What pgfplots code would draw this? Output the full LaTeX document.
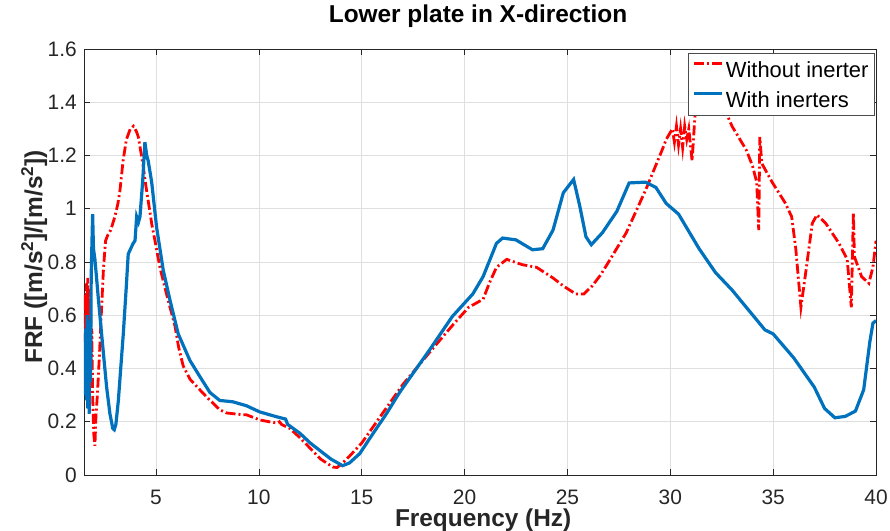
\documentclass[border=0pt]{standalone}
\usepackage{fontspec}
\setmainfont{Liberation Sans}
\usepackage{pgfplots}
\pgfplotsset{compat=1.18}
\definecolor{mred}{rgb}{1,0,0}
\definecolor{mblue}{rgb}{0,0.447,0.741}
\definecolor{axgray}{rgb}{0.15,0.15,0.15}

\begin{document}
\begin{tikzpicture}
\useasboundingbox (-84bp,-56bp) rectangle (806bp,475bp);
\begin{axis}[
  at={(0,0)}, anchor=south west,
  scale only axis, width=792bp, height=426bp,
  xmin=1.5, xmax=40, ymin=0, ymax=1.6,
  xtick={5,10,15,20,25,30,35,40},
  xticklabels={5,10,15,20,25,30,35,40},
  ytick={0,0.2,0.4,0.6,0.8,1,1.2,1.4,1.6},
  yticklabels={0,0.2,0.4,0.6,0.8,1,1.2,1.4,1.6},
  grid=major,
  major grid style={draw=gray!25, line width=0.7bp},
  axis line style={draw=axgray, line width=0.7bp},
  tick style={draw=axgray, line width=0.7bp},
  tick align=inside, major tick length=6bp,
  ticklabel style={font=\fontsize{21}{24}\selectfont, text=axgray, inner sep=0pt},
  xticklabel style={anchor=base, yshift=-29bp},
  yticklabel style={anchor=east, xshift=-7bp},
  title={Lower plate in X-direction},
  title style={font=\bfseries\fontsize{24.5}{28}\selectfont,
    at={(axis description cs:0.4975,1.049)}, anchor=base, inner sep=0pt},
  xlabel={Frequency (Hz)},
  xlabel style={font=\bfseries\fontsize{24.5}{28}\selectfont, text=axgray,
    at={(axis description cs:0.504,-0.12)}, anchor=base, inner sep=0pt},
  ylabel={FRF ([m/s\textsuperscript{2}]/[m/s\textsuperscript{2}])},
  ylabel style={font=\bfseries\fontsize{24.5}{28}\selectfont, text=axgray,
    at={(axis description cs:-0.053,0.512)}, anchor=base, rotate=0, inner sep=0pt},
  legend cell align=left,
  legend style={at={(axis description cs:0.9987,0.9906)}, anchor=north east,
    fill=white, font=\fontsize{22}{25}\selectfont, inner xsep=4bp, inner ysep=6bp,
    row sep=10bp,
    nodes={inner sep=2bp, text height=16bp, text depth=0bp}},
  every axis legend/.append style={draw=gray!60!black, line width=1.1bp},
  legend image code/.code={\draw[#1] (0bp,6bp) -- (28bp,6bp);},
]
\addplot[mred, line width=2.8bp, dash pattern=on 10bp off 3bp on 2bp off 3bp] coordinates {
(1.52,0.50) (1.55,0.68) (1.58,0.55) (1.62,0.72) (1.65,0.52) (1.68,0.74)
(1.72,0.58) (1.75,0.70) (1.78,0.48) (1.82,0.62) (1.85,0.40) (1.88,0.55)
(1.92,0.30) (1.95,0.22) (1.98,0.15) (2.03,0.11) (2.08,0.22) (2.15,0.30)
(2.25,0.45) (2.35,0.62) (2.45,0.78) (2.55,0.88) (2.65,0.90) (2.80,0.92)
(3.00,0.97) (3.15,1.02) (3.25,1.07) (3.40,1.18) (3.56,1.26) (3.75,1.30)
(3.90,1.31) (4.05,1.29) (4.14,1.27) (4.25,1.22) (4.38,1.16) (4.50,1.09)
(4.62,1.03) (4.80,0.94) (4.95,0.88) (5.19,0.78) (5.51,0.68) (5.92,0.56)
(6.10,0.48) (6.32,0.41) (6.65,0.36) (7.13,0.32) (7.50,0.29) (7.77,0.27)
(8.10,0.245) (8.43,0.233) (9.0,0.228) (9.4,0.226) (10.04,0.207) (10.5,0.20)
(10.9,0.195) (11.0,0.20) (11.1,0.19) (11.5,0.175) (12.0,0.14) (12.5,0.10)
(13.0,0.06) (13.59,0.03) (13.8,0.028) (14.0,0.04) (14.4,0.07) (15.0,0.12)
(16.0,0.23) (17.0,0.34) (18.4,0.47) (19.5,0.57) (20.2,0.63) (20.9,0.66)
(21.2,0.72) (21.55,0.78) (22.05,0.81) (22.8,0.79) (23.5,0.78) (24.3,0.74)
(24.8,0.71) (25.4,0.68) (25.8,0.68) (26.2,0.71) (26.6,0.75) (27.0,0.80)
(27.86,0.91) (28.8,1.07) (29.6,1.22) (29.8,1.26) (30.1,1.30) (30.2,1.25)
(30.3,1.31) (30.4,1.24) (30.5,1.30) (30.6,1.23) (30.7,1.31) (30.8,1.26)
(30.9,1.30) (31.06,1.18) (31.2,1.35) (31.5,1.39) (32.0,1.45) (32.5,1.40)
(33.0,1.31) (33.7,1.22) (34.0,1.16) (34.2,1.10) (34.3,0.92) (34.35,1.27)
(34.45,1.17) (34.95,1.10) (35.6,1.02) (35.9,0.97) (36.1,0.85) (36.35,0.63)
(36.6,0.77) (36.9,0.945) (37.13,0.977) (37.56,0.945) (38.2,0.87) (38.6,0.81)
(38.8,0.63) (38.9,0.985) (38.95,0.82) (39.3,0.745) (39.65,0.72) (39.85,0.78)
(40,0.88)
};
\addlegendentry{Without inerter}
\addplot[mblue, line width=3.2bp] coordinates {
(1.52,0.45) (1.55,0.30) (1.58,0.55) (1.62,0.28) (1.65,0.60) (1.68,0.25)
(1.72,0.50) (1.75,0.23) (1.78,0.58) (1.82,0.35) (1.85,0.75) (1.88,0.85)
(1.92,0.98) (1.96,0.85) (2.03,0.81) (2.10,0.75) (2.2,0.66) (2.44,0.46)
(2.6,0.33) (2.76,0.23) (2.9,0.175) (2.97,0.17) (3.05,0.19) (3.17,0.28)
(3.41,0.53) (3.55,0.70) (3.65,0.83) (3.89,0.87) (3.98,0.88) (4.06,0.97)
(4.15,0.95) (4.22,0.97) (4.35,1.10) (4.46,1.25) (4.55,1.20) (4.62,1.18)
(4.79,1.10) (5.03,0.93) (5.35,0.77) (5.67,0.66) (6.08,0.53) (6.65,0.43)
(7.13,0.37) (7.62,0.31) (8.10,0.28) (8.73,0.275) (9.4,0.26) (10.04,0.237)
(10.8,0.22) (11.3,0.21) (11.4,0.19) (11.99,0.157) (12.5,0.12) (13.0,0.09)
(13.5,0.06) (14.07,0.035) (14.4,0.045) (14.9,0.08) (15.5,0.15) (16.2,0.23)
(16.84,0.31) (18.3,0.47) (19.4,0.595) (20.4,0.68) (20.9,0.745) (21.55,0.87)
(21.85,0.89) (22.5,0.883) (23.3,0.846) (23.8,0.85) (24.3,0.92) (24.8,1.06)
(25.3,1.11) (25.6,1.01) (25.9,0.895) (26.16,0.865) (26.7,0.91) (27.4,0.99)
(28.0,1.097) (28.8,1.10) (29.3,1.08) (29.8,1.02) (30.4,0.98) (31.4,0.85)
(32.2,0.76) (33.0,0.695) (33.8,0.62) (34.6,0.545) (35.0,0.53) (36.0,0.44)
(37.0,0.33) (37.5,0.25) (38.0,0.215) (38.5,0.22) (39.0,0.24) (39.4,0.32)
(39.7,0.50) (39.85,0.57) (40,0.58)
};
\addlegendentry{With inerters}
\end{axis}
\end{tikzpicture}
\end{document}
